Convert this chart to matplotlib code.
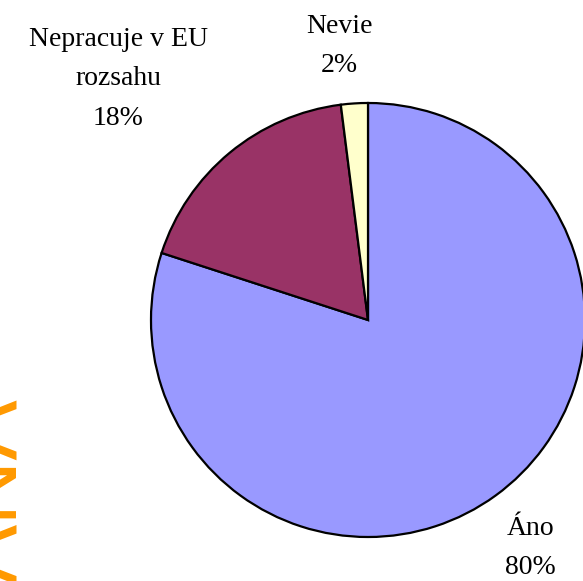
import matplotlib
matplotlib.use("Agg")
import matplotlib.pyplot as plt
import numpy as np

# data
labels = ["Áno", "Nepracuje v EU\nrozsahu", "Nevie"]
values = [80, 18, 2]
colors = ["#9999FF", "#993366", "#FFFFCC"]
# label placement (angle in degrees, distance in radii)
label_pos = [(-54.6, 1.29), (136.0, 1.60), (96.0, 1.27)]

W, H = 583, 581
fig = plt.figure(figsize=(W / 100, H / 100), dpi=100)
fig.patch.set_facecolor("white")

# pie centre ~ (368, 320) px from top-left, radius ~217 px
cx, cy, r = 368, 320, 217
ax = fig.add_axes([(cx - r) / W, (H - cy - r) / H, 2 * r / W, 2 * r / H])
ax.pie(values, colors=colors, startangle=90, counterclock=False,
       wedgeprops=dict(edgecolor="black", linewidth=1.6))
ax.set_xlim(-1, 1)
ax.set_ylim(-1, 1)
ax.set_aspect("equal")
ax.axis("off")

for lab, v, (ang, dist) in zip(labels, values, label_pos):
    a = np.deg2rad(ang)
    ax.text(dist * np.cos(a), dist * np.sin(a), f"{lab}\n{v}%",
            ha="center", va="center", fontsize=20,
            family="Liberation Serif", linespacing=1.75, clip_on=False)

# orange side caption, mostly cut off by the left edge
fig.text(17 / W, (H - 398) / H, "ANA", rotation=90, rotation_mode="anchor",
         ha="right", va="baseline", fontsize=65, color="#FF9900",
         family="Liberation Sans")

fig.savefig("out.png", dpi=100)
